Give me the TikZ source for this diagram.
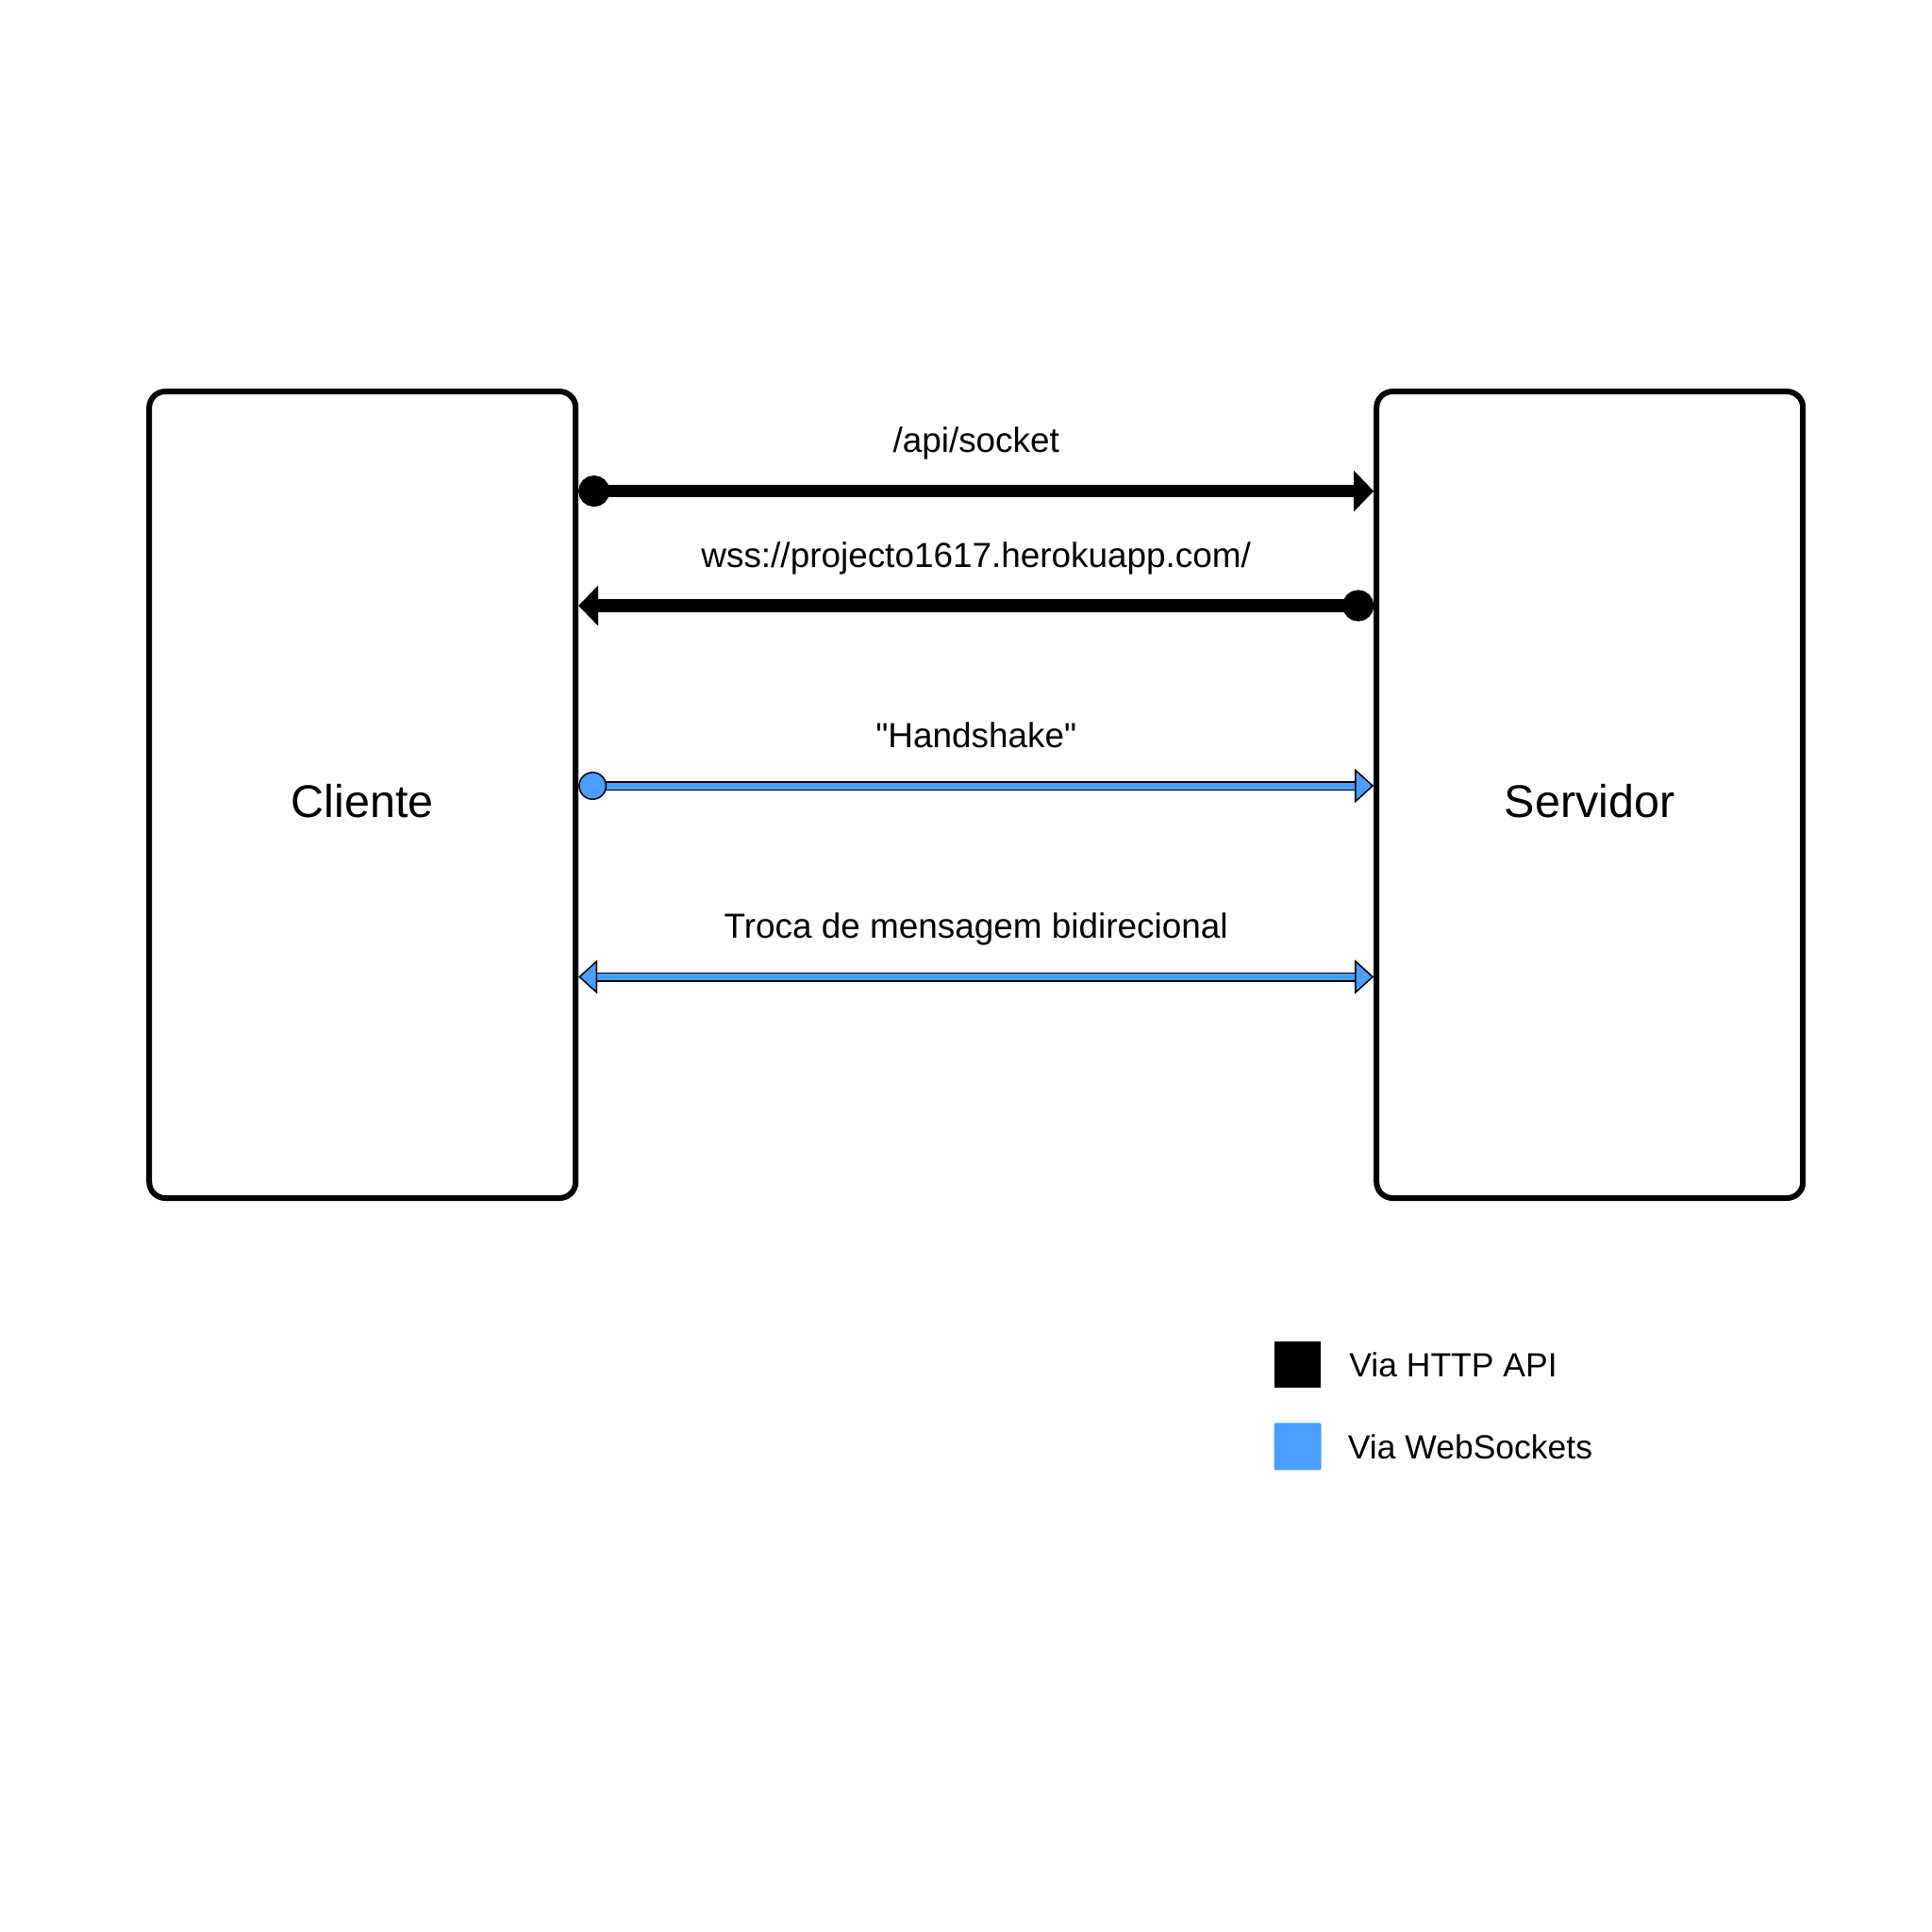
\documentclass[tikz,border=0pt]{standalone}
\usepackage{xcolor}
\usepackage{fontspec}
\setmainfont{Liberation Sans}[Ligatures=TeXOff]
\usepackage{tikz}
\usetikzlibrary{arrows.meta,positioning}

\definecolor{wsblue}{RGB}{74,158,255}

\begin{document}
\begin{tikzpicture}[x=1mm, y=1mm, node distance=84.3mm, font=\fontsize{10.1}{12}\selectfont]
  \tikzstyle{box}=[draw=black, line width=0.6mm, rounded corners=1.7mm, minimum width=45.2mm, minimum height=85.5mm, text height=4.8mm, font=\fontsize{13.8}{16}\selectfont]
  \tikzstyle{http}=[draw=black, line width=1.35mm, arrows={Circle[length=3.3mm]-Triangle[length=2.1mm,width=4.2mm]}]
  \tikzstyle{httpback}=[draw=black, line width=1.35mm, arrows={Triangle[length=2.1mm,width=4.2mm]-Circle[length=3.3mm]}]
  \tikzstyle{ws}=[draw=black, line width=0.15mm, double=wsblue, double distance=0.7mm]
  \tikzstyle{wsone}=[ws, arrows={Circle[length=3mm,fill=wsblue]-Triangle[length=2mm,width=3.6mm,fill=wsblue]}]
  \tikzstyle{wsboth}=[ws, arrows={Triangle[length=2mm,width=3.6mm,fill=wsblue]-Triangle[length=2mm,width=3.6mm,fill=wsblue]}]
  \tikzstyle{lbl}=[anchor=base, yshift=4.1mm, inner sep=0pt, font=\fontsize{10.5}{12}\selectfont]
  \tikzstyle{key}=[minimum size=4.9mm, inner sep=0pt]

  \useasboundingbox (0,0) rectangle (204.8,-204.8);

  % Nodes
  \node[box] (cli) at (38.42,-84.25) {Cliente};
  \node[box] (srv) [right=of cli] {Servidor};

  % Arrows / transitions
  \path ([yshift=32.19mm]cli.east) edge [http] node[lbl] {/api/socket} ([yshift=32.19mm]srv.west);
  \path ([yshift=20.05mm]cli.east) edge [httpback] node[lbl] {wss://projecto1617.herokuapp.com/} ([yshift=20.05mm]srv.west);
  \path ([yshift=0.95mm]cli.east) edge [wsone] node[lbl] {"Handshake"} ([yshift=0.95mm]srv.west);
  \path ([yshift=-19.3mm]cli.east) edge [wsboth] node[lbl] {Troca de mensagem bidirecional} ([yshift=-19.3mm]srv.west);

  % Legend
  \node[key, fill=black] (keyhttp) at (137.55,-144.65) {};
  \node[key, fill=wsblue, minimum size=5mm, rounded corners=0.2mm] (keyws) [below=3.6mm of keyhttp] {};
  \node[inner sep=0pt] (txthttp) [right=2.9mm of keyhttp] {Via HTTP API};
  \node[inner sep=0pt] (txtws) [right=2.7mm of keyws] {Via WebSockets};
\end{tikzpicture}
\end{document}
